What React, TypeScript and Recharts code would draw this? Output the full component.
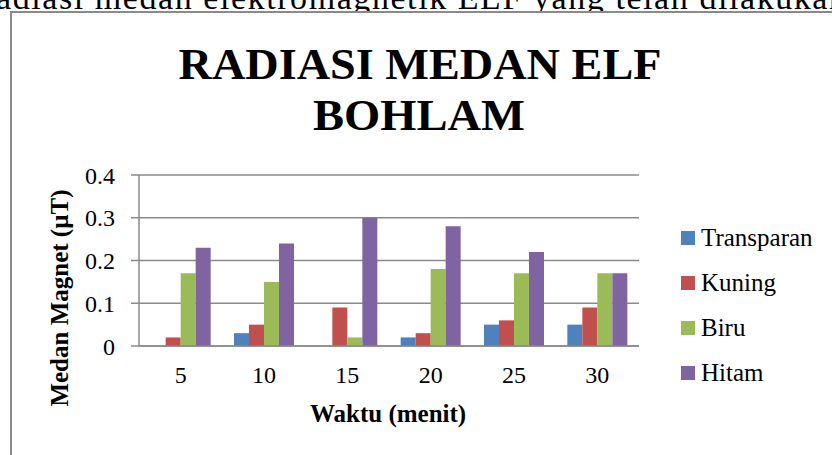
import { BarChart, Bar, XAxis, YAxis, CartesianGrid, Legend } from 'recharts';

const categories = ['5', '10', '15', '20', '25', '30'];
const transparan = [0, 0.03, 0, 0.02, 0.05, 0.05];
const kuning = [0.02, 0.05, 0.09, 0.03, 0.06, 0.09];
const biru = [0.17, 0.15, 0.02, 0.18, 0.17, 0.17];
const hitam = [0.23, 0.24, 0.3, 0.28, 0.22, 0.17];
const yTicks = [0, 0.1, 0.2, 0.3, 0.4];

const SERIES = [
  { key: 'transparan', name: 'Transparan', color: '#4F81BD' },
  { key: 'kuning', name: 'Kuning', color: '#C0504D' },
  { key: 'biru', name: 'Biru', color: '#9BBB59' },
  { key: 'hitam', name: 'Hitam', color: '#8064A2' },
];

const data = categories.map((c, i) => ({
  label: c,
  transparan: transparan[i],
  kuning: kuning[i],
  biru: biru[i],
  hitam: hitam[i],
}));

const FONT = '"Liberation Serif", "Times New Roman", serif';
const GRID = '#8a8a8a';

function LegendBox() {
  return (
    <div style={{ width: 150, fontFamily: FONT, fontSize: 25, color: '#000' }}>
      {SERIES.map((s) => (
        <div
          key={s.key}
          style={{ display: 'flex', alignItems: 'center', height: 45 }}
        >
          <span
            style={{
              width: 14,
              height: 14,
              background: s.color,
              marginRight: 6,
              display: 'inline-block',
            }}
          />
          <span>{s.name}</span>
        </div>
      ))}
    </div>
  );
}

export default function App() {
  return (
    <div
      style={{
        position: 'absolute',
        left: 0,
        top: 0,
        width: 832,
        height: 455,
        overflow: 'hidden',
        background: '#fff',
      }}
    >
      <BarChart
        width={832}
        height={455}
        data={data}
        margin={{ top: 175, right: 43, left: 79, bottom: 49 }}
        barCategoryGap="14%"
        barGap={0}
      >
        <CartesianGrid vertical={false} stroke={GRID} strokeWidth={1.5} />
        <XAxis
          dataKey="label"
          height={60}
          tickLine={false}
          tickSize={0}
          tickMargin={20}
          axisLine={{ stroke: GRID, strokeWidth: 1.5 }}
          tick={{ fontSize: 24, fontFamily: FONT, fill: '#000' }}
        />
        <YAxis
          width={60}
          domain={[0, 0.4]}
          ticks={yTicks}
          tickSize={8}
          tickMargin={16}
          tickLine={{ stroke: GRID, strokeWidth: 1.5 }}
          axisLine={{ stroke: GRID, strokeWidth: 1.5 }}
          tick={{ fontSize: 24, fontFamily: FONT, fill: '#000' }}
        />
        <Legend
          layout="vertical"
          align="right"
          verticalAlign="middle"
          content={<LegendBox />}
          wrapperStyle={{ left: 681, top: 215 }}
        />
        {SERIES.map((s) => (
          <Bar
            key={s.key}
            dataKey={s.key}
            name={s.name}
            fill={s.color}
            isAnimationActive={false}
          />
        ))}
      </BarChart>
      <svg
        width={832}
        height={455}
        style={{ position: 'absolute', left: 0, top: 0, pointerEvents: 'none' }}
      >
        <defs>
          <clipPath id="topClip">
            <rect x={0} y={0} width={832} height={11} />
          </clipPath>
        </defs>
        <text
          x={-4}
          y={9}
          fontFamily={FONT}
          fontSize={34}
          textLength={850}
          clipPath="url(#topClip)"
        >
          adiasi medan elektromagnetik ELF yang telah dilakukan
        </text>
        <path d="M11 455 L11 12 L832 12" fill="none" stroke={GRID} strokeWidth={2} />
        <text
          x={420}
          y={79}
          textAnchor="middle"
          fontFamily={FONT}
          fontWeight="bold"
          fontSize={44}
          textLength={483}
          lengthAdjust="spacingAndGlyphs"
        >
          RADIASI MEDAN ELF
        </text>
        <text
          x={419}
          y={130}
          textAnchor="middle"
          fontFamily={FONT}
          fontWeight="bold"
          fontSize={44}
          textLength={212}
          lengthAdjust="spacingAndGlyphs"
        >
          BOHLAM
        </text>
        <text
          x={68}
          y={298}
          textAnchor="middle"
          fontFamily={FONT}
          fontWeight="bold"
          fontSize={25}
          transform="rotate(-90, 68, 298)"
        >
          Medan Magnet (µT)
        </text>
        <text
          x={388}
          y={422}
          textAnchor="middle"
          fontFamily={FONT}
          fontWeight="bold"
          fontSize={25}
        >
          Waktu (menit)
        </text>
      </svg>
    </div>
  );
}
